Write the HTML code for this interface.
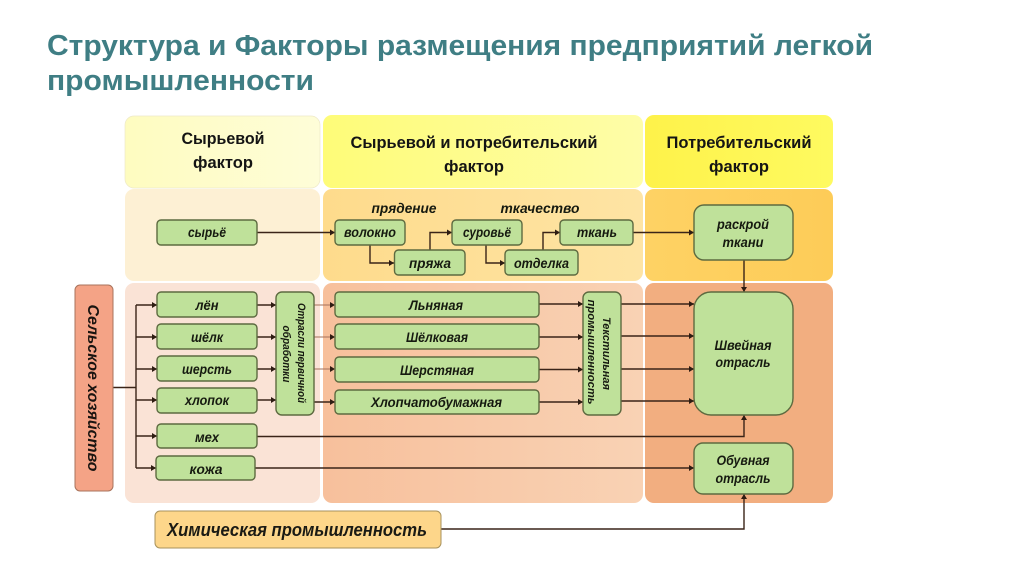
<!DOCTYPE html>
<html><head><meta charset="utf-8">
<style>
html,body{margin:0;padding:0;background:#fff;width:1024px;height:574px;overflow:hidden}
svg{display:block;position:absolute;left:0;top:0;filter:blur(.35px)}
text{font-family:"Liberation Sans","Noto Sans CJK SC",sans-serif}
.t{font-weight:bold;fill:#3f7e84;font-size:29px}
.h{font-weight:bold;fill:#141414;font-size:17px;text-anchor:middle}
.i{font-weight:bold;font-style:italic;fill:#161a10;font-size:14px;text-anchor:middle}
.r{font-weight:bold;font-style:italic;fill:#161a10;font-size:11px;text-anchor:middle}
.b{fill:#bfe19a;stroke:#5d6a40;stroke-width:1.4}
.l{fill:none;stroke:#3a2418;stroke-width:1.4;marker-end:url(#a)}
.f{fill:none;stroke:#a5705a;stroke-width:1;marker-end:url(#a)}
</style></head><body>
<svg width="1024" height="574" viewBox="0 0 1024 574" xmlns="http://www.w3.org/2000/svg">
<defs>
<marker id="a" markerUnits="userSpaceOnUse" markerWidth="7" markerHeight="7" refX="6" refY="3.5" orient="auto"><path d="M1 0.5L6 3.5L1 6.5Z" fill="#2e1c12"/></marker>
<linearGradient id="g1" x1="0" x2="1" y1="0" y2="0"><stop offset="0" stop-color="#fefcc0"/><stop offset="1" stop-color="#fefdd8"/></linearGradient>
<linearGradient id="g2" x1="0" x2="1" y1="0" y2="0"><stop offset="0" stop-color="#fefc78"/><stop offset="1" stop-color="#fefda8"/></linearGradient>
<linearGradient id="g3" x1="0" x2="1" y1="0" y2="0"><stop offset="0" stop-color="#fef24a"/><stop offset="1" stop-color="#fefa60"/></linearGradient>
<linearGradient id="g4" x1="0" x2="1" y1="0" y2="0"><stop offset="0" stop-color="#fedb8c"/><stop offset="1" stop-color="#fee4a4"/></linearGradient>
<linearGradient id="g5" x1="0" x2="1" y1="0" y2="0"><stop offset="0" stop-color="#fed264"/><stop offset="1" stop-color="#fdcc58"/></linearGradient>
<linearGradient id="g6" x1="0" x2="1" y1="0" y2="0"><stop offset="0" stop-color="#f7c09c"/><stop offset="1" stop-color="#f9d2b4"/></linearGradient>
</defs>

<text class="t" x="47" y="55" textLength="826" lengthAdjust="spacingAndGlyphs">Структура и Факторы размещения предприятий легкой</text>
<text class="t" x="47" y="90" textLength="267" lengthAdjust="spacingAndGlyphs">промышленности</text>

<rect x="125" y="116" width="195" height="72" rx="9" fill="url(#g1)" stroke="#eee9c8" stroke-width=".7"/>
<rect x="323" y="115" width="320" height="73" rx="9" fill="url(#g2)"/>
<rect x="645" y="115" width="188" height="73" rx="9" fill="url(#g3)"/>
<rect x="125" y="189" width="195" height="92" rx="9" fill="#fdf0d4"/>
<rect x="323" y="189" width="320" height="92" rx="9" fill="url(#g4)"/>
<rect x="645" y="189" width="188" height="92" rx="9" fill="url(#g5)"/>
<rect x="125" y="283" width="195" height="220" rx="9" fill="#fae3d6"/>
<rect x="323" y="283" width="320" height="220" rx="9" fill="url(#g6)"/>
<rect x="645" y="283" width="188" height="220" rx="9" fill="#f2ae80"/>

<text class="h" x="223" y="144" textLength="83" lengthAdjust="spacingAndGlyphs">Сырьевой</text>
<text class="h" x="223" y="168" textLength="60" lengthAdjust="spacingAndGlyphs">фактор</text>
<text class="h" x="474" y="148" textLength="247" lengthAdjust="spacingAndGlyphs">Сырьевой и потребительский</text>
<text class="h" x="474" y="172" textLength="60" lengthAdjust="spacingAndGlyphs">фактор</text>
<text class="h" x="739" y="148" textLength="145" lengthAdjust="spacingAndGlyphs">Потребительский</text>
<text class="h" x="739" y="172" textLength="60" lengthAdjust="spacingAndGlyphs">фактор</text>
<text class="i" x="404" y="213" textLength="65" lengthAdjust="spacingAndGlyphs">прядение</text>
<text class="i" x="540" y="213" textLength="79" lengthAdjust="spacingAndGlyphs">ткачество</text>

<path class="l" d="M257 232.500H335"/>
<path class="l" d="M370 245V263H394"/>
<path class="l" d="M430 250V232.500H452"/>
<path class="l" d="M486 245V263H505"/>
<path class="l" d="M543 250V232.500H560"/>
<path class="l" d="M633 232.500H694"/>
<path class="l" d="M744 260V292"/>
<path d="M113 387.500H136" fill="none" stroke="#3a2418" stroke-width="1.400"/>
<path d="M136 305V468" fill="none" stroke="#3a2418" stroke-width="1.400"/>
<path class="l" d="M136 305H157"/>
<path class="l" d="M136 337H157"/>
<path class="l" d="M136 369H157"/>
<path class="l" d="M136 400H157"/>
<path class="l" d="M136 436H157"/>
<path class="l" d="M136 468H156"/>
<path class="l" d="M257 305H276"/>
<path class="l" d="M257 337H276"/>
<path class="l" d="M257 369H276"/>
<path class="l" d="M256 400H276"/>
<path class="f" d="M314 305H335"/>
<path class="f" d="M314 337H335"/>
<path class="f" d="M314 369H335"/>
<path class="l" d="M314 402H335"/>
<path class="l" d="M539 304H583"/>
<path class="l" d="M539 337H583"/>
<path class="l" d="M539 369.500H583"/>
<path class="l" d="M539 402H583"/>
<path class="l" d="M621 304H694"/>
<path class="l" d="M621 336H694"/>
<path class="l" d="M621 369H694"/>
<path class="l" d="M621 401H694"/>
<path class="l" d="M257 436.500H744V415"/>
<path class="l" d="M255 468H694"/>
<path class="l" d="M441 529H744V494"/>

<rect x="75" y="285" width="38" height="206" rx="5" fill="#f4a386" stroke="#a8735c" stroke-width="1"/>
<text transform="translate(88,388) rotate(90)" text-anchor="middle" textLength="167" lengthAdjust="spacingAndGlyphs" style="font-weight:bold;font-style:italic;font-size:16px;fill:#1a1410">Сельское хозяйство</text>

<rect class="b" x="157" y="220" width="100" height="25" rx="4"/><text class="i" x="207" y="237" textLength="38" lengthAdjust="spacingAndGlyphs">сырьё</text>
<rect class="b" x="335" y="220" width="70" height="25" rx="4"/><text class="i" x="370" y="237" textLength="52" lengthAdjust="spacingAndGlyphs">волокно</text>
<rect class="b" x="394.500" y="250" width="70.500" height="25" rx="4"/><text class="i" x="430" y="268" textLength="42" lengthAdjust="spacingAndGlyphs">пряжа</text>
<rect class="b" x="452" y="220" width="70" height="25" rx="4"/><text class="i" x="487" y="237" textLength="48" lengthAdjust="spacingAndGlyphs">суровьё</text>
<rect class="b" x="505" y="250" width="73" height="25" rx="4"/><text class="i" x="541.500" y="268" textLength="55" lengthAdjust="spacingAndGlyphs">отделка</text>
<rect class="b" x="560" y="220" width="73" height="25" rx="4"/><text class="i" x="597" y="237" textLength="40" lengthAdjust="spacingAndGlyphs">ткань</text>
<rect class="b" x="694" y="205" width="99" height="55" rx="10"/>
<text class="i" x="743" y="229" textLength="52" lengthAdjust="spacingAndGlyphs">раскрой</text><text class="i" x="743" y="247" textLength="41" lengthAdjust="spacingAndGlyphs">ткани</text>
<rect class="b" x="694" y="292" width="99" height="123" rx="17"/>
<text class="i" x="743" y="350" textLength="57" lengthAdjust="spacingAndGlyphs">Швейная</text><text class="i" x="743" y="367" textLength="55" lengthAdjust="spacingAndGlyphs">отрасль</text>
<rect class="b" x="694" y="443" width="99" height="51" rx="9"/>
<text class="i" x="743" y="465" textLength="53" lengthAdjust="spacingAndGlyphs">Обувная</text><text class="i" x="743" y="483" textLength="55" lengthAdjust="spacingAndGlyphs">отрасль</text>

<rect class="b" x="157" y="292" width="100" height="25" rx="4"/><text class="i" x="207" y="310" textLength="23" lengthAdjust="spacingAndGlyphs">лён</text>
<rect class="b" x="157" y="324" width="100" height="25" rx="4"/><text class="i" x="207" y="342" textLength="32" lengthAdjust="spacingAndGlyphs">шёлк</text>
<rect class="b" x="157" y="356" width="100" height="25" rx="4"/><text class="i" x="207" y="374" textLength="50" lengthAdjust="spacingAndGlyphs">шерсть</text>
<rect class="b" x="157" y="388" width="100" height="25" rx="4"/><text class="i" x="207" y="405" textLength="44" lengthAdjust="spacingAndGlyphs">хлопок</text>
<rect class="b" x="157" y="424" width="100" height="24" rx="4"/><text class="i" x="207" y="442" textLength="24" lengthAdjust="spacingAndGlyphs">мех</text>
<rect class="b" x="156" y="456" width="99" height="24" rx="4"/><text class="i" x="206" y="474" textLength="33" lengthAdjust="spacingAndGlyphs">кожа</text>

<rect class="b" x="276" y="292" width="38" height="123" rx="6"/>
<text class="r" transform="translate(298,353) rotate(90)" textLength="100" lengthAdjust="spacingAndGlyphs">Отрасли первичной</text>
<text class="r" transform="translate(283,354) rotate(90)" textLength="57" lengthAdjust="spacingAndGlyphs">обработки</text>

<rect class="b" x="335" y="292" width="204" height="25" rx="4"/><text class="i" x="436" y="310" textLength="54" lengthAdjust="spacingAndGlyphs">Льняная</text>
<rect class="b" x="335" y="324" width="204" height="25" rx="4"/><text class="i" x="437" y="342" textLength="62" lengthAdjust="spacingAndGlyphs">Шёлковая</text>
<rect class="b" x="335" y="357" width="204" height="25" rx="4"/><text class="i" x="437" y="375" textLength="74" lengthAdjust="spacingAndGlyphs">Шерстяная</text>
<rect class="b" x="335" y="390" width="204" height="24" rx="4"/><text class="i" x="436.500" y="407" textLength="131" lengthAdjust="spacingAndGlyphs">Хлопчатобумажная</text>

<rect class="b" x="583" y="292" width="38" height="123" rx="6"/>
<text class="r" transform="translate(603,353.500) rotate(90)" textLength="73" lengthAdjust="spacingAndGlyphs">Текстильная</text>
<text class="r" transform="translate(588,352) rotate(90)" textLength="105" lengthAdjust="spacingAndGlyphs">промышленность</text>

<rect x="155" y="511" width="286" height="37" rx="5" fill="#fdd68a" stroke="#a8925c" stroke-width="1"/>
<text x="297" y="536" text-anchor="middle" textLength="260" lengthAdjust="spacingAndGlyphs" style="font-weight:bold;font-style:italic;font-size:18px;fill:#1a1a14">Химическая промышленность</text>
</svg>
</body></html>
